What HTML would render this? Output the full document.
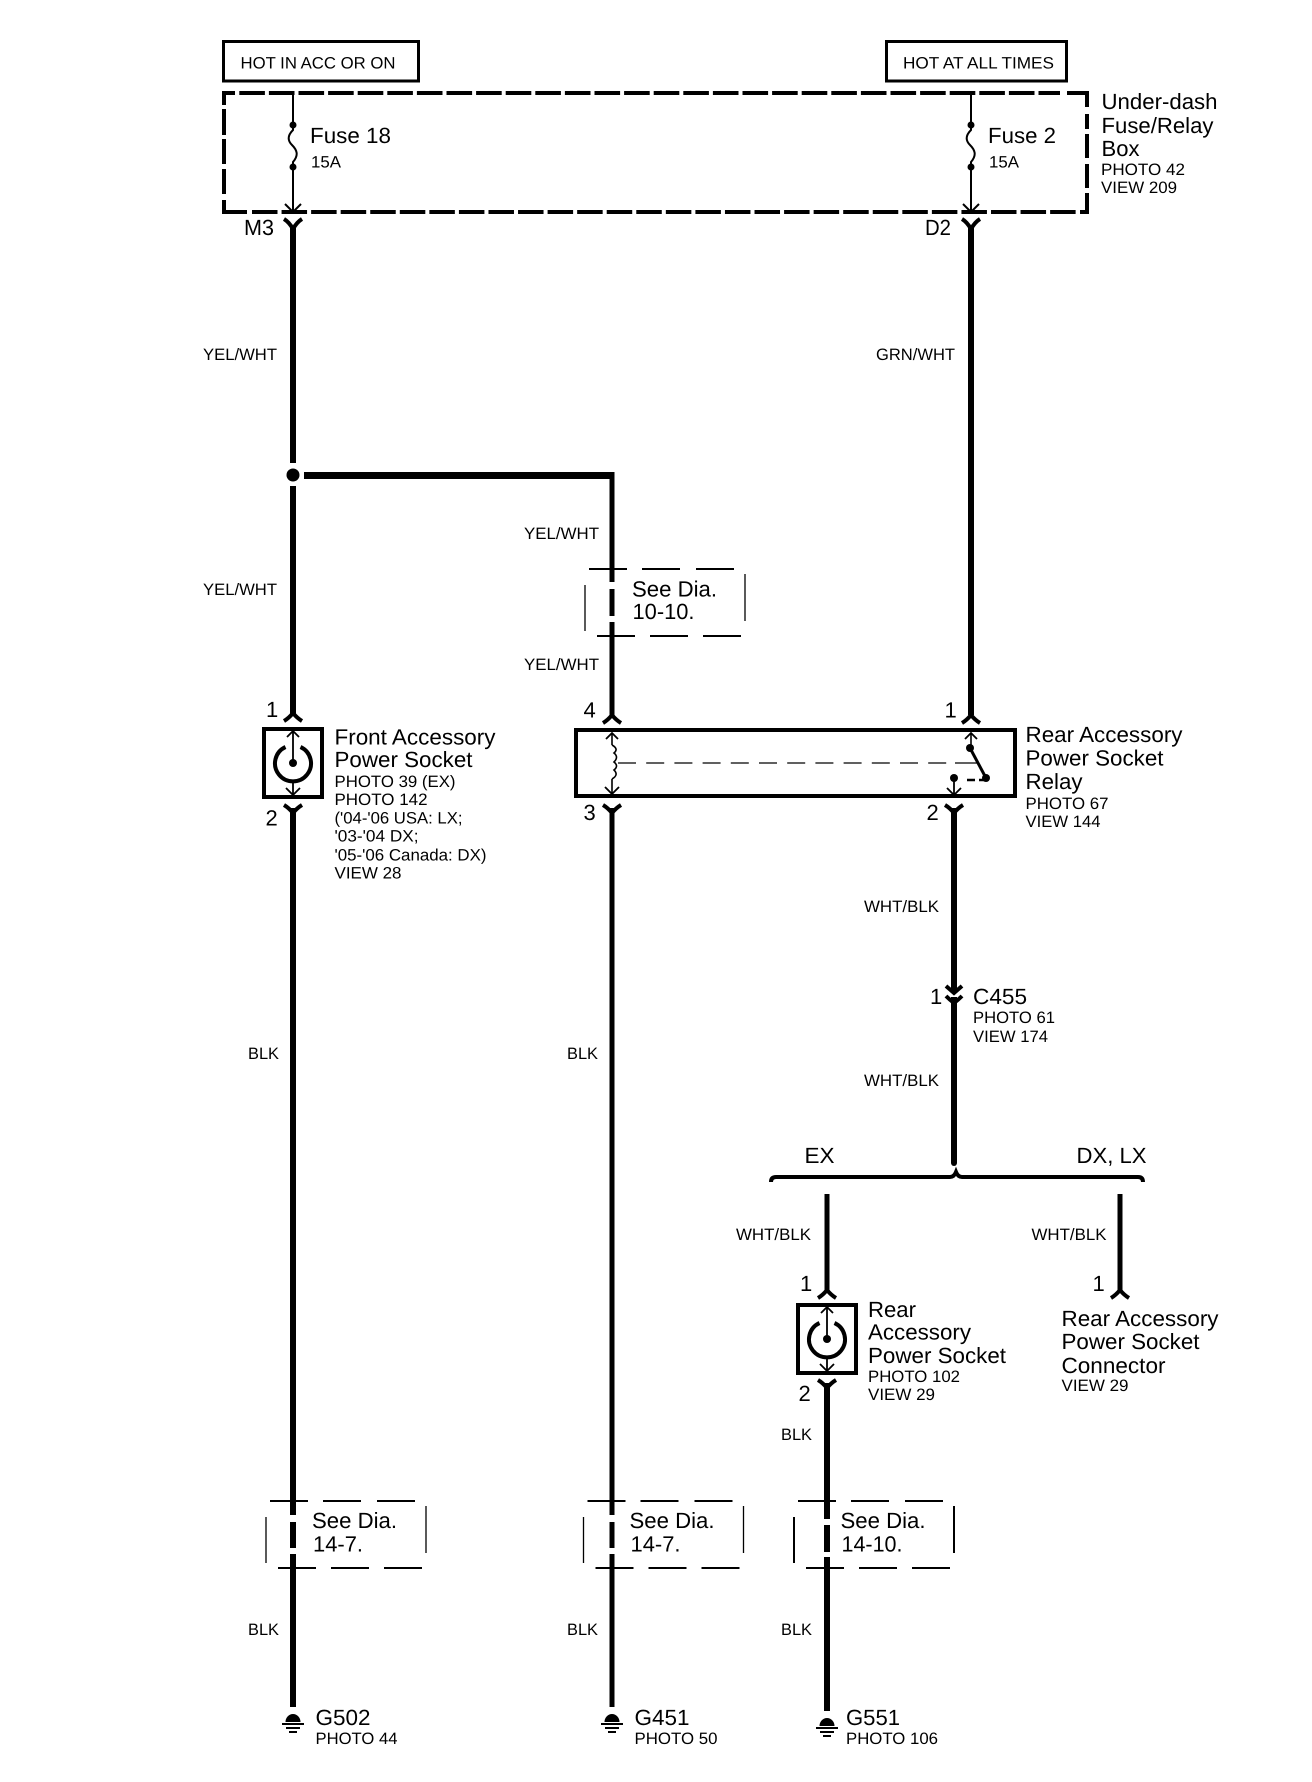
<!DOCTYPE html>
<html><head><meta charset="utf-8"><title>Accessory Power Socket Circuit</title>
<style>
html,body{margin:0;padding:0;background:#fff}
svg{display:block}
text{font-family:"Liberation Sans",sans-serif;fill:#000;text-rendering:geometricPrecision}
.l{font-size:22px}.s{font-size:16.5px}
</style></head><body>
<svg width="1312" height="1782" viewBox="0 0 1312 1782" xmlns="http://www.w3.org/2000/svg">
<defs>
<path id="up" d="M-9 8Q-4 5 0 0Q4 5 9 8" fill="none" stroke="#000" stroke-width="4"/>
<path id="dn" d="M-9 0Q-4 3 0 8Q4 3 9 0" fill="none" stroke="#000" stroke-width="4"/>
<path id="tu" d="M-6 6L0 0L6 6" fill="none" stroke="#000" stroke-width="1.8"/>
<path id="td" d="M-7 -6L0 1L7 -6" fill="none" stroke="#000" stroke-width="1.8"/>
<g id="fuse">
<path d="M0 93V130C-5 135 -6 140 -1 145C4 150 6 155 0 162V212" fill="none" stroke="#000" stroke-width="2"/>
<circle cy="125" r="3.5"/><circle cy="167" r="3.5"/>
<path d="M-8 204L0 212L8 204" fill="none" stroke="#000" stroke-width="2"/>
<path d="M-9 219Q-4 222 0 229Q4 222 9 219" fill="none" stroke="#000" stroke-width="4"/>
</g>
<g id="sock">
<rect x="-29" y="2" width="58" height="68" fill="#fff" stroke="#000" stroke-width="4"/>
<path d="M-7.5 20A18 18 0 1 0 7.5 20" fill="none" stroke="#000" stroke-width="4"/>
<circle cy="36" r="4"/>
<path d="M0 5V36M0 54V67" stroke="#000" stroke-width="1.8"/>
<use href="#tu" y="4"/><use href="#td" y="67"/>
</g>
<g id="gnd">
<path d="M-7.5 10A7.5 8 0 0 1 7.5 10Z"/>
<rect x="-11" y="11" width="22" height="2"/>
<rect x="-7" y="15" width="14" height="2"/>
<rect x="-4" y="19" width="8" height="2"/>
</g>
<path id="seeh" d="M270 1501H308M323 1501H361M377 1501H415M278 1568H316M331 1568H369M384 1568H422" fill="none" stroke="#000" stroke-width="2"/>
<path id="seev" d="M266 1517V1563M426 1506V1553" fill="none" stroke="#000" stroke-width="1.3"/>
<path id="seev2" d="M266 1517V1563M426 1506V1553" fill="none" stroke="#000" stroke-width="2"/>
</defs>

<!-- hot boxes -->
<rect x="223.500" y="41.500" width="195" height="39.500" fill="none" stroke="#000" stroke-width="3"/>
<rect x="886.500" y="41.500" width="180" height="39.500" fill="none" stroke="#000" stroke-width="3"/>

<!-- dashed fuse box -->
<g fill="none" stroke="#000" stroke-width="4">
<path d="M235 93H224V105"/>
<path d="M239.300 93H1060" stroke-dasharray="25.600 4"/>
<path d="M1067 93H1087V107"/>
<path d="M1087 114V129M1087 134V158M1087 164V188M1087 193V212H1080"/>
<path d="M224 109V135M224 139V164M224 169V194M224 200V212H247"/>
<path d="M252 212H1078" stroke-dasharray="25.500 4.060"/>
</g>

<use href="#fuse" x="293"/>
<use href="#fuse" x="971"/>

<!-- main wires -->
<g stroke="#000" stroke-width="6" fill="none">
<path d="M293 226V463M293 486V715"/>
<path d="M971 226V715"/>
<path d="M293 808V1515M293 1522V1548M293 1554V1707"/>
<path d="M612 808V1515M612 1522V1548M612 1554V1707" stroke-width="5"/>
<path d="M954 808V993M954 997V1163"/>
<path d="M827 1194V1292" stroke-width="5"/>
<path d="M1120 1194V1292" stroke-width="5"/>
<path d="M827 1383V1519M827 1525V1552M827 1557V1711"/>
<path d="M304 475.500H612" stroke-width="7"/>
<path d="M612 472V582M612 589V616M612 622V715" stroke-width="5"/>
</g>
<circle cx="293" cy="475" r="6.500"/>
<circle cx="954" cy="1163" r="3"/>

<!-- connectors -->
<use href="#up" x="293" y="713"/>
<use href="#dn" x="293" y="805"/>
<use href="#up" x="612" y="715"/>
<use href="#dn" x="612" y="805"/>
<use href="#up" x="971" y="715"/>
<use href="#dn" x="954" y="805"/>
<use href="#up" x="827" y="1290"/>
<use href="#up" x="1120" y="1290"/>
<use href="#dn" x="827" y="1380"/>
<path d="M946 986L954 993L962 986M946 996Q950 1000 954 1003Q958 1000 962 996" fill="none" stroke="#000" stroke-width="4"/>

<!-- sockets -->
<use href="#sock" x="293" y="727"/>
<use href="#sock" x="827" y="1303"/>

<!-- relay -->
<rect x="576" y="730" width="439" height="66" fill="none" stroke="#000" stroke-width="4"/>
<path d="M612 733V745M612 779V793" stroke="#000" stroke-width="1.600" fill="none"/>
<use href="#tu" x="612" y="733"/><use href="#td" x="612" y="793"/>
<path d="M612 745Q619 749 614 753Q619 757 614 762Q619 766 614 770Q619 775 612 779" fill="none" stroke="#000" stroke-width="1.600"/>
<path d="M618 763H948" stroke="#000" stroke-width="1.300" stroke-dasharray="18 10.200" fill="none"/>
<path d="M955 763H977" stroke="#000" stroke-width="1.300"/>
<path d="M971 733V748" stroke="#000" stroke-width="1.600"/>
<use href="#tu" x="971" y="733"/>
<circle cx="970" cy="748" r="4"/><circle cx="986" cy="778" r="4"/><circle cx="954" cy="778" r="4"/>
<path d="M970 748L986 778" stroke="#000" stroke-width="3"/>
<path d="M967 780H975M979 780H986" stroke="#000" stroke-width="2.500"/>
<path d="M954 778V795" stroke="#000" stroke-width="1.800"/>
<use href="#td" x="954" y="794"/>

<!-- bracket -->
<path d="M771 1182Q771 1177 776 1177H950Q954 1177 956 1172Q958 1177 962 1177H1138Q1143 1177 1143 1182" fill="none" stroke="#000" stroke-width="4"/>

<!-- see dia -->
<use href="#seeh"/><use href="#seev"/>
<use href="#seeh" x="317.500"/><use href="#seev" x="317.500"/>
<use href="#seeh" x="528"/><use href="#seev2" x="528"/>
<use href="#seeh" x="319" y="-932"/><use href="#seev" x="319" y="-932"/>

<!-- grounds -->
<use href="#gnd" x="293" y="1712"/>
<use href="#gnd" x="612" y="1712"/>
<use href="#gnd" x="827" y="1716"/>

<!-- text -->
<text class="s" x="240.500" y="68.500" textLength="155" lengthAdjust="spacingAndGlyphs">HOT IN ACC OR ON</text>
<text class="s" x="903" y="68.500" textLength="151" lengthAdjust="spacingAndGlyphs">HOT AT ALL TIMES</text>
<text class="l" x="310" y="143" textLength="81" lengthAdjust="spacingAndGlyphs">Fuse 18</text>
<text class="s" x="311" y="167.500" textLength="30" lengthAdjust="spacingAndGlyphs">15A</text>
<text class="l" x="244" y="235" textLength="30" lengthAdjust="spacingAndGlyphs">M3</text>
<text class="l" x="988" y="143" textLength="68" lengthAdjust="spacingAndGlyphs">Fuse 2</text>
<text class="s" x="989" y="167.500" textLength="30" lengthAdjust="spacingAndGlyphs">15A</text>
<text class="l" x="925" y="235" textLength="26" lengthAdjust="spacingAndGlyphs">D2</text>
<text class="l" x="1101.500" y="109" textLength="116" lengthAdjust="spacingAndGlyphs">Under-dash</text>
<text class="l" x="1101.500" y="133" textLength="112" lengthAdjust="spacingAndGlyphs">Fuse/Relay</text>
<text class="l" x="1101.500" y="156" textLength="38" lengthAdjust="spacingAndGlyphs">Box</text>
<text class="s" x="1101" y="175" textLength="84" lengthAdjust="spacingAndGlyphs">PHOTO 42</text>
<text class="s" x="1101" y="193" textLength="76" lengthAdjust="spacingAndGlyphs">VIEW 209</text>

<text class="s" x="203" y="360" textLength="74" lengthAdjust="spacingAndGlyphs">YEL/WHT</text>
<text class="s" x="876" y="360" textLength="79" lengthAdjust="spacingAndGlyphs">GRN/WHT</text>
<text class="s" x="203" y="595" textLength="74" lengthAdjust="spacingAndGlyphs">YEL/WHT</text>
<text class="s" x="524" y="539" textLength="75" lengthAdjust="spacingAndGlyphs">YEL/WHT</text>
<text class="s" x="524" y="670" textLength="75" lengthAdjust="spacingAndGlyphs">YEL/WHT</text>

<text class="l" x="632" y="596.500" textLength="85" lengthAdjust="spacingAndGlyphs">See Dia.</text>
<text class="l" x="632.500" y="619" textLength="62" lengthAdjust="spacingAndGlyphs">10-10.</text>

<text class="l" x="266" y="717">1</text>
<text class="l" x="265.500" y="825.500">2</text>
<text class="l" x="583.500" y="717.500">4</text>
<text class="l" x="583.500" y="820">3</text>
<text class="l" x="944.500" y="717.500">1</text>
<text class="l" x="926.500" y="820">2</text>

<text class="l" x="334.500" y="744.500" textLength="161" lengthAdjust="spacingAndGlyphs">Front Accessory</text>
<text class="l" x="334.500" y="767" textLength="138" lengthAdjust="spacingAndGlyphs">Power Socket</text>
<text class="s" x="334.500" y="787" textLength="121" lengthAdjust="spacingAndGlyphs">PHOTO 39 (EX)</text>
<text class="s" x="334.500" y="805" textLength="93" lengthAdjust="spacingAndGlyphs">PHOTO 142</text>
<text class="s" x="334.500" y="823.500" textLength="128" lengthAdjust="spacingAndGlyphs">('04-'06 USA: LX;</text>
<text class="s" x="334.500" y="841.500" textLength="84" lengthAdjust="spacingAndGlyphs">'03-'04 DX;</text>
<text class="s" x="334.500" y="860.500" textLength="152" lengthAdjust="spacingAndGlyphs">'05-'06 Canada: DX)</text>
<text class="s" x="334.500" y="878.500" textLength="67" lengthAdjust="spacingAndGlyphs">VIEW 28</text>

<text class="l" x="1025.500" y="742" textLength="157" lengthAdjust="spacingAndGlyphs">Rear Accessory</text>
<text class="l" x="1025.500" y="765.500" textLength="138" lengthAdjust="spacingAndGlyphs">Power Socket</text>
<text class="l" x="1025.500" y="789" textLength="57" lengthAdjust="spacingAndGlyphs">Relay</text>
<text class="s" x="1025.500" y="809" textLength="83" lengthAdjust="spacingAndGlyphs">PHOTO 67</text>
<text class="s" x="1025.500" y="827" textLength="75" lengthAdjust="spacingAndGlyphs">VIEW 144</text>

<text class="s" x="248" y="1059" textLength="31" lengthAdjust="spacingAndGlyphs">BLK</text>
<text class="s" x="567" y="1059" textLength="31" lengthAdjust="spacingAndGlyphs">BLK</text>
<text class="s" x="864" y="912" textLength="75" lengthAdjust="spacingAndGlyphs">WHT/BLK</text>
<text class="s" x="864" y="1086" textLength="75" lengthAdjust="spacingAndGlyphs">WHT/BLK</text>
<text class="l" x="930" y="1004">1</text>
<text class="l" x="973" y="1004" textLength="54" lengthAdjust="spacingAndGlyphs">C455</text>
<text class="s" x="973" y="1023" textLength="82" lengthAdjust="spacingAndGlyphs">PHOTO 61</text>
<text class="s" x="973" y="1042" textLength="75" lengthAdjust="spacingAndGlyphs">VIEW 174</text>
<text class="l" x="804.500" y="1163" textLength="30" lengthAdjust="spacingAndGlyphs">EX</text>
<text class="l" x="1076.500" y="1163" textLength="70" lengthAdjust="spacingAndGlyphs">DX, LX</text>
<text class="s" x="736" y="1240" textLength="75" lengthAdjust="spacingAndGlyphs">WHT/BLK</text>
<text class="s" x="1031.500" y="1240" textLength="75" lengthAdjust="spacingAndGlyphs">WHT/BLK</text>

<text class="l" x="800" y="1291">1</text>
<text class="l" x="798.500" y="1401">2</text>
<text class="l" x="868" y="1317" textLength="48" lengthAdjust="spacingAndGlyphs">Rear</text>
<text class="l" x="868" y="1339.500" textLength="103" lengthAdjust="spacingAndGlyphs">Accessory</text>
<text class="l" x="868" y="1363" textLength="138" lengthAdjust="spacingAndGlyphs">Power Socket</text>
<text class="s" x="868" y="1382" textLength="92" lengthAdjust="spacingAndGlyphs">PHOTO 102</text>
<text class="s" x="868" y="1400" textLength="67" lengthAdjust="spacingAndGlyphs">VIEW 29</text>

<text class="l" x="1092.500" y="1291">1</text>
<text class="l" x="1061.500" y="1326" textLength="157" lengthAdjust="spacingAndGlyphs">Rear Accessory</text>
<text class="l" x="1061.500" y="1349" textLength="138" lengthAdjust="spacingAndGlyphs">Power Socket</text>
<text class="l" x="1061.500" y="1373" textLength="104" lengthAdjust="spacingAndGlyphs">Connector</text>
<text class="s" x="1061.500" y="1391" textLength="67" lengthAdjust="spacingAndGlyphs">VIEW 29</text>
<text class="s" x="781" y="1433" textLength="31" lengthAdjust="spacingAndGlyphs" transform="translate(0,7)">BLK</text>

<text class="l" x="312" y="1528" textLength="85" lengthAdjust="spacingAndGlyphs">See Dia.</text>
<text class="l" x="313" y="1551.500" textLength="50" lengthAdjust="spacingAndGlyphs">14-7.</text>
<text class="l" x="629.500" y="1528" textLength="85" lengthAdjust="spacingAndGlyphs">See Dia.</text>
<text class="l" x="630.500" y="1551.500" textLength="50" lengthAdjust="spacingAndGlyphs">14-7.</text>
<text class="l" x="840.500" y="1528" textLength="85" lengthAdjust="spacingAndGlyphs">See Dia.</text>
<text class="l" x="841.500" y="1551.500" textLength="61" lengthAdjust="spacingAndGlyphs">14-10.</text>

<text class="s" x="248" y="1635" textLength="31" lengthAdjust="spacingAndGlyphs">BLK</text>
<text class="s" x="567" y="1635" textLength="31" lengthAdjust="spacingAndGlyphs">BLK</text>
<text class="s" x="781" y="1635" textLength="31" lengthAdjust="spacingAndGlyphs">BLK</text>

<text class="l" x="315.500" y="1725" textLength="55" lengthAdjust="spacingAndGlyphs">G502</text>
<text class="s" x="315.500" y="1744" textLength="82" lengthAdjust="spacingAndGlyphs">PHOTO 44</text>
<text class="l" x="634.500" y="1725" textLength="55" lengthAdjust="spacingAndGlyphs">G451</text>
<text class="s" x="634.500" y="1744" textLength="83" lengthAdjust="spacingAndGlyphs">PHOTO 50</text>
<text class="l" x="846" y="1725" textLength="54" lengthAdjust="spacingAndGlyphs">G551</text>
<text class="s" x="846" y="1744" textLength="92" lengthAdjust="spacingAndGlyphs">PHOTO 106</text>
</svg>
</body></html>
